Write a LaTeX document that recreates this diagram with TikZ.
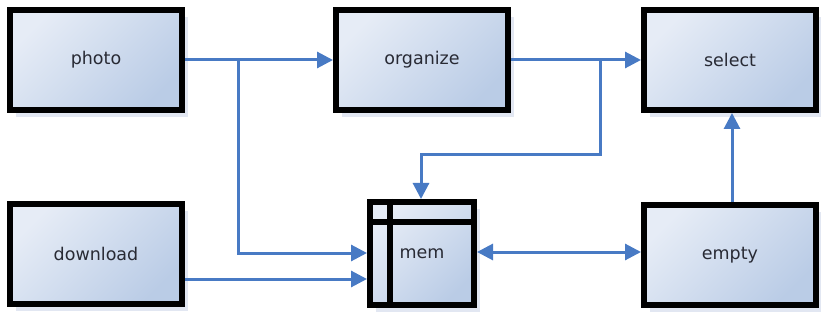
\documentclass[tikz,border=0pt]{standalone}
\usepackage{fontspec}
\newfontfamily\boxfont{DejaVu Sans}
\usetikzlibrary{arrows.meta,shadows}

\definecolor{fillA}{RGB}{230,236,246}
\definecolor{fillB}{RGB}{186,204,230}
\definecolor{shade}{RGB}{226,231,242}
\definecolor{link}{RGB}{72,122,196}
\definecolor{ink}{RGB}{40,42,52}

\tikzset{
  unit/.style={
    draw=black, line width=6pt,
    left color=fillA, right color=fillB, shading angle=45,
    general shadow={fill=shade, shadow xshift=6pt, shadow yshift=-7pt},
    minimum width=172pt, minimum height=100pt,
    font=\boxfont\fontsize{17.5}{20}\selectfont, text=ink,
    inner sep=0pt},
  membox/.style={unit, minimum width=104pt, minimum height=103pt},
  conn/.style={draw=link, line width=3pt, -{Triangle[length=16pt,width=16pt]}},
  twoway/.style={draw=link, line width=3pt,
    {Triangle[length=16pt,width=16pt]}-{Triangle[length=16pt,width=16pt]}},
  divider/.style={draw=black, line width=6pt}
}

\begin{document}
\begin{tikzpicture}[x=1pt,y=1pt]
  \useasboundingbox (0,0) rectangle (821,-320);

  % top row
  \node[unit] (photo)    at (96,-60)  {photo};
  \node[unit] (organize) at (422,-60) {organize};
  \node[unit] (select)   at (730,-60) {select};

  % bottom row
  \node[unit]   (download) at (96,-254)    {download};
  \node[membox] (mem)      at (422,-253.5) {mem};
  \node[unit]   (empty)    at (730,-255)   {empty};

  % ruled header and margin of the memory block
  \draw[divider] (390,-199) -- (390,-308);
  \draw[divider] (367,-222) -- (477,-222);

  % junctions
  \coordinate (split1) at (238,-60);
  \coordinate (split2) at (600,-60);
  \coordinate (bend2)  at (600,-155);
  \coordinate (bend3)  at (421,-155);
  \coordinate (inA)    at (367,-253);
  \coordinate (inB)    at (367,-279);
  \coordinate (outD)   at (185,-279);

  % connectors
  \draw[conn] (photo.east) -- (organize.west);
  \draw[conn] (split1) |- (inA);
  \draw[conn] (outD) -- (inB);
  \draw[conn] (organize.east) -- (select.west);
  \draw[conn] (split2) -- (bend2) -- (bend3) -- (bend3 |- mem.north);
  \draw[twoway] (mem.east |- 0,-252) -- (empty.west |- 0,-252);
  \draw[conn] (empty.north -| 732,0) -- (select.south -| 732,0);
\end{tikzpicture}
\end{document}
